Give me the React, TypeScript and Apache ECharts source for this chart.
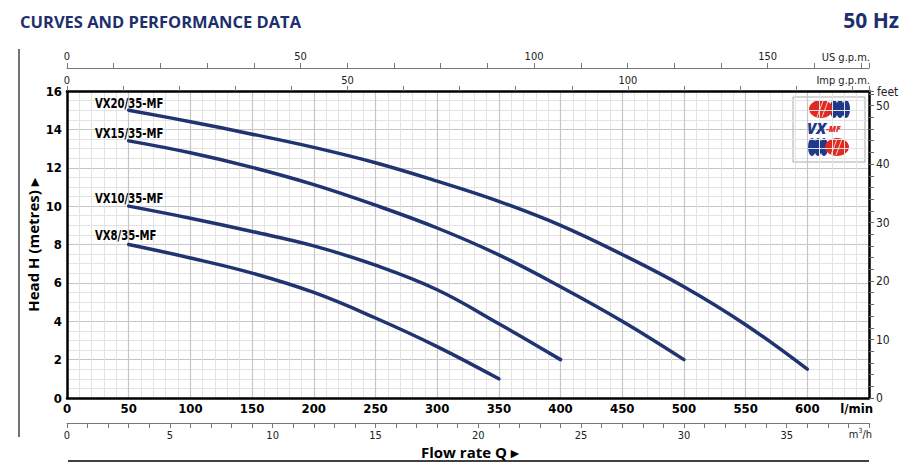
import React, { useEffect, useRef } from "react";
import * as echarts from "echarts";

// Flow (l/min) and head (m)
const vx20Q = [50, 100, 150, 200, 250, 300, 350, 400, 450, 500, 550, 600];
const vx20H = [15, 14.4, 13.75, 13.06, 12.26, 11.3, 10.25, 9.0, 7.48, 5.8, 3.82, 1.5];
const vx15Q = [50, 100, 150, 200, 250, 300, 350, 400, 450, 500];
const vx15H = [13.4, 12.78, 12.02, 11.12, 10.05, 8.86, 7.46, 5.8, 4.0, 2.0];
const vx10Q = [50, 100, 150, 200, 250, 300, 350, 400];
const vx10H = [10, 9.37, 8.68, 7.93, 6.92, 5.64, 3.87, 2.0];
const vx8Q = [50, 100, 150, 200, 250, 300, 350];
const vx8H = [8, 7.3, 6.51, 5.5, 4.17, 2.68, 1.0];

const seriesNames = ["VX20/35-MF", "VX15/35-MF", "VX10/35-MF", "VX8/35-MF"];

// Axis scales
const flowMax = 650; // l/min
const headMax = 16; // m
const usGpmPerLmin = 1 / 3.78541;
const impGpmPerLmin = 1 / 4.54609;
const m3hPerLmin = 0.06;
const feetPerM = 3.28084;
const usGpmLabels = [0, 50, 100, 150];
const impGpmLabels = [0, 50, 100];
const m3hLabels = [0, 5, 10, 15, 20, 25, 30, 35];
const feetLabels = [0, 10, 20, 30, 40, 50];

const NAVY = "#1f3470";
const NARROW = "'Liberation Sans Narrow', 'DejaVu Sans Condensed', 'Open Sans', sans-serif";

function zip(q: number[], h: number[]) {
  return q.map((v, i) => [v, h[i]]);
}

export default function App() {
  const ref = useRef<HTMLDivElement>(null);
  useEffect(() => {
    document.body.style.margin = "0";
    if (!ref.current) return;
    const chart = echarts.init(ref.current, undefined, { renderer: "svg" });
    const thinLabel = { fontFamily: NARROW, fontSize: 11, color: "#222" };
    const option: any = {
      animation: false,
      backgroundColor: "#fff",
      grid: { left: 67, right: 50, top: 91, bottom: 73, containLabel: false },
      xAxis: [
        {
          type: "value",
          position: "bottom",
          min: 0,
          max: flowMax,
          interval: 50,
          axisLine: { show: true, onZero: false, lineStyle: { color: "#000", width: 2.5 } },
          axisTick: { show: false },
          axisLabel: {
            formatter: (v: number) => (v <= 600 ? String(v) : ""),
            fontFamily: NARROW,
            fontWeight: "bold",
            fontSize: 13,
            color: "#000",
            margin: 4,
          },
          splitLine: { show: true, lineStyle: { color: "#c6c6c6", width: 1.2 } },
          minorTick: { show: false, splitNumber: 5 },
          minorSplitLine: { show: true, lineStyle: { color: "#e3e3e3", width: 1 } },
        },
        {
          type: "value",
          position: "bottom",
          offset: 25,
          min: 0,
          max: flowMax * m3hPerLmin,
          interval: 1,
          axisLine: { show: true, onZero: false, lineStyle: { color: "#777", width: 1 } },
          axisTick: { show: true, length: 5, lineStyle: { color: "#777" } },
          axisLabel: {
            ...thinLabel,
            margin: 7,
            formatter: (v: number) => (m3hLabels.includes(v) ? String(v) : ""),
          },
          splitLine: { show: false },
        },
        {
          type: "value",
          position: "top",
          offset: 0,
          min: 0,
          max: flowMax * impGpmPerLmin,
          interval: 10,
          axisLine: { show: true, onZero: false, lineStyle: { color: "#000", width: 2.5 } },
          axisTick: { show: true, length: 5, lineStyle: { color: "#777" } },
          axisLabel: {
            ...thinLabel,
            margin: 5,
            formatter: (v: number) => (impGpmLabels.includes(v) ? String(v) : ""),
          },
          splitLine: { show: false },
        },
        {
          type: "value",
          position: "top",
          offset: 23,
          min: 0,
          max: flowMax * usGpmPerLmin,
          interval: 10,
          axisLine: { show: true, onZero: false, lineStyle: { color: "#777", width: 1 } },
          axisTick: { show: true, length: 5, lineStyle: { color: "#777" } },
          axisLabel: {
            ...thinLabel,
            margin: 6,
            formatter: (v: number) => (usGpmLabels.includes(v) ? String(v) : ""),
          },
          splitLine: { show: false },
        },
      ],
      yAxis: [
        {
          type: "value",
          position: "left",
          min: 0,
          max: headMax,
          interval: 2,
          axisLine: { show: true, onZero: false, lineStyle: { color: "#000", width: 2.5 } },
          axisTick: { show: false },
          axisLabel: {
            fontFamily: NARROW,
            fontWeight: "bold",
            fontSize: 13,
            color: "#000",
            margin: 5,
          },
          splitLine: { show: true, lineStyle: { color: "#c6c6c6", width: 1.2 } },
          minorTick: { show: false, splitNumber: 4 },
          minorSplitLine: { show: true, lineStyle: { color: "#e3e3e3", width: 1 } },
        },
        {
          type: "value",
          position: "right",
          min: 0,
          max: headMax * feetPerM,
          interval: 2,
          axisLine: { show: true, onZero: false, lineStyle: { color: "#000", width: 2.5 } },
          axisTick: { show: true, length: 5, lineStyle: { color: "#666" } },
          axisLabel: {
            ...thinLabel,
            fontSize: 12,
            margin: 7,
            formatter: (v: number) => (feetLabels.includes(v) ? String(v) : ""),
          },
          splitLine: { show: false },
        },
      ],
      series: [
        [vx20Q, vx20H],
        [vx15Q, vx15H],
        [vx10Q, vx10H],
        [vx8Q, vx8H],
      ].map(([q, h], i) => ({
        name: seriesNames[i],
        type: "line",
        xAxisIndex: 0,
        yAxisIndex: 0,
        data: zip(q, h),
        showSymbol: false,
        symbol: "none",
        smooth: 0.4,
        lineStyle: { color: NAVY, width: 3.5, cap: "round" },
        z: 5,
      })),
      graphic: [
        {
          type: "text",
          left: 20,
          top: 13,
          style: {
            text: "CURVES AND PERFORMANCE DATA",
            fontFamily: "'Open Sans', sans-serif",
            fontWeight: "bold",
            fontSize: 16.5,
            fill: "#1e2f6e",
          },
        },
        {
          type: "text",
          right: 20,
          top: 9,
          style: {
            text: "50 Hz",
            fontFamily: "'Open Sans', sans-serif",
            fontWeight: "bold",
            fontSize: 21,
            fill: "#1e2f6e",
          },
        },
        {
          type: "line",
          shape: { x1: 19, y1: 49, x2: 19, y2: 437 },
          style: { stroke: "#444", lineWidth: 1.5 },
        },
        {
          type: "line",
          shape: { x1: 68, y1: 461, x2: 869, y2: 461 },
          style: { stroke: "#000", lineWidth: 1.5 },
        },
        {
          type: "text",
          x: 421,
          y: 452,
          style: {
            text: "Flow rate Q ▸",
            fontFamily: "'Open Sans', sans-serif",
            fontWeight: "bold",
            fontSize: 15,
            fill: "#000",
            textVerticalAlign: "middle",
          },
        },
        {
          type: "text",
          x: 33,
          y: 245,
          rotation: Math.PI / 2,
          style: {
            text: "Head H (metres) ▸",
            fontFamily: "'Open Sans', sans-serif",
            fontWeight: "bold",
            fontSize: 15,
            fill: "#000",
            textAlign: "center",
            textVerticalAlign: "middle",
          },
        },
        {
          type: "text",
          x: 870,
          y: 57,
          style: { text: "US g.p.m.", font: `11px ${NARROW}`, fill: "#222", textAlign: "right", textVerticalAlign: "middle" },
        },
        {
          type: "text",
          x: 870,
          y: 80,
          style: { text: "Imp g.p.m.", font: `11px ${NARROW}`, fill: "#222", textAlign: "right", textVerticalAlign: "middle" },
        },
        {
          type: "text",
          x: 877,
          y: 92,
          style: { text: "feet", font: `12px ${NARROW}`, fill: "#222", textAlign: "left", textVerticalAlign: "middle" },
        },
        {
          type: "text",
          x: 873,
          y: 408,
          style: { text: "l/min", font: `bold 13px ${NARROW}`, fill: "#000", textAlign: "right", textVerticalAlign: "middle" },
        },
        {
          type: "text",
          x: 872,
          y: 434,
          style: {
            text: "m{s|3}/h",
            font: `11px ${NARROW}`,
            fill: "#222",
            textAlign: "right",
            textVerticalAlign: "middle",
            rich: { s: { fontSize: 7, verticalAlign: "top", padding: [0, 0, 6, 0], fontFamily: NARROW } },
          },
        },
        ...[
          [103, seriesNames[0]],
          [133, seriesNames[1]],
          [198, seriesNames[2]],
          [235, seriesNames[3]],
        ].map(([y, t]) => ({
          type: "text",
          x: 95,
          y: y as number,
          scaleX: 0.8,
          z: 10,
          style: {
            text: t as string,
            font: `bold 14px ${NARROW}`,
            fill: "#000",
            textAlign: "left",
            textVerticalAlign: "middle",
          },
        })),
        {
          type: "group",
          x: 793,
          y: 97,
          z: 20,
          children: [
            { type: "rect", shape: { x: 0, y: 0, width: 72, height: 65 }, style: { fill: "#fff", stroke: "#aaa", lineWidth: 1 } },
            // top tread
            { type: "ellipse", shape: { cx: 41, cy: 12, rx: 4, ry: 9 }, style: { fill: "#1f3a8a" } },
            { type: "ellipse", shape: { cx: 47, cy: 12, rx: 4, ry: 9 }, style: { fill: "#1f3a8a" } },
            { type: "ellipse", shape: { cx: 53, cy: 12, rx: 4, ry: 9 }, style: { fill: "#1f3a8a" } },
            { type: "ellipse", shape: { cx: 28, cy: 12, rx: 12, ry: 9 }, style: { fill: "#e02a20" } },
            { type: "line", shape: { x1: 24, y1: 20, x2: 30, y2: 4 }, style: { stroke: "#fff", lineWidth: 0.8 } },
            { type: "line", shape: { x1: 29, y1: 20, x2: 35, y2: 4 }, style: { stroke: "#fff", lineWidth: 0.8 } },
            // bottom tread
            { type: "ellipse", shape: { cx: 19, cy: 50, rx: 4, ry: 9 }, style: { fill: "#1f3a8a" } },
            { type: "ellipse", shape: { cx: 25, cy: 50, rx: 4, ry: 9 }, style: { fill: "#1f3a8a" } },
            { type: "ellipse", shape: { cx: 31, cy: 50, rx: 4, ry: 9 }, style: { fill: "#1f3a8a" } },
            { type: "ellipse", shape: { cx: 44, cy: 50, rx: 12, ry: 9 }, style: { fill: "#e02a20" } },
            { type: "line", shape: { x1: 38, y1: 58, x2: 44, y2: 42 }, style: { stroke: "#fff", lineWidth: 0.8 } },
            { type: "line", shape: { x1: 43, y1: 58, x2: 49, y2: 42 }, style: { stroke: "#fff", lineWidth: 0.8 } },
            {
              type: "text",
              x: 14,
              y: 31,
              z: 30,
              style: {
                text: "{a|VX}{b|-MF}",
                textVerticalAlign: "middle",
                rich: {
                  a: { fontFamily: "'Open Sans', sans-serif", fontWeight: 800, fontStyle: "italic", fontSize: 15, lineHeight: 16, fill: "#1f3a8a" },
                  b: { fontFamily: "'Open Sans', sans-serif", fontWeight: 800, fontStyle: "italic", fontSize: 8, lineHeight: 16, fill: "#e02a20" },
                },
              },
            },
          ],
        },
      ],
    };
    chart.setOption(option);
    return () => chart.dispose();
  }, []);
  return <div ref={ref} style={{ width: 919, height: 471 }} />;
}
